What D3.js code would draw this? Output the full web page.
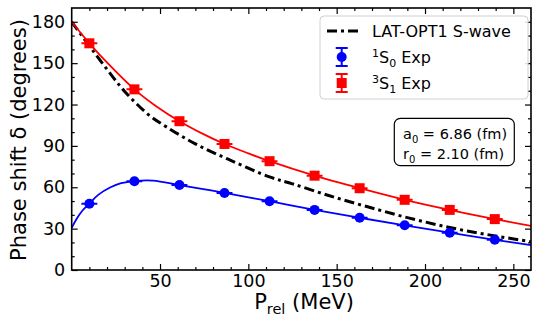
<!DOCTYPE html>
<html><head><meta charset="utf-8">
<script src="https://cdn.jsdelivr.net/npm/d3@7"></script>
<style>body{margin:0;background:#fff}svg{display:block}text{font-family:"DejaVu Sans",sans-serif}</style>
</head><body>
<svg id="c" width="540" height="324"></svg>
<script>
// ---- data ----
const xExp = [10, 35.5, 61, 86.5, 112, 137.5, 163, 188.5, 214, 239.5];
const s0Exp = [48.1, 64.4, 61.6, 55.9, 49.9, 43.6, 37.9, 32.4, 27.1, 21.9];
const s1Exp = [164.4, 131.0, 107.9, 91.4, 78.9, 68.4, 59.3, 50.9, 43.6, 36.9];
const xErr = 4.5;

const s0CurveX = [0, 3, 6, 10, 15, 22, 28, 35.5, 46, 61, 74.5, 86.5, 112, 137.5, 163, 188.5, 214, 239.5, 260];
const s0CurveY = [30.5, 37.5, 43, 48.1, 54.5, 60, 63, 64.5, 64.8, 61.6, 58.7, 55.9, 49.9, 43.6, 37.9, 32.4, 27.1, 21.9, 18];
const s1CurveX = [0, 10, 22, 35.5, 48, 61, 74, 86.5, 100, 112, 137.5, 163, 188.5, 214, 239.5, 260];
const s1CurveY = [180, 164.4, 147.8, 131, 118.6, 107.9, 98.9, 91.4, 84.6, 78.9, 68.4, 59.3, 50.9, 43.6, 36.9, 32];
const latX = [0, 10, 20, 30, 43.6, 54, 70, 90, 112, 125, 145, 167, 190, 214, 237, 260];
const latY = [180, 162.5, 145.5, 129.5, 112.5, 103.5, 91.5, 79.5, 67.5, 62.5, 54.2, 46, 38, 30.8, 25.3, 20.5];

const xTicks = [50, 100, 150, 200, 250];
const yTicks = [0, 30, 60, 90, 120, 150, 180];
const legendLabels = ["LAT-OPT1 S-wave", "1S0 Exp", "3S1 Exp"];
const annotation = ["a0 = 6.86 (fm)", "r0 = 2.10 (fm)"];

// ---- layout ----
const svg = d3.select("#c");
const L = 71.7, R = 531, T = 8, B = 270;
const x = d3.scaleLinear().domain([0, 260]).range([L, R]);
const y = d3.scaleLinear().domain([0, 190]).range([B, T]);

svg.append("defs").append("clipPath").attr("id", "clip")
  .append("rect").attr("x", L).attr("y", T).attr("width", R - L).attr("height", B - T);

const line = d3.line().x(d => x(d[0])).y(d => y(d[1])).curve(d3.curveCatmullRom.alpha(0.5));
const plot = svg.append("g").attr("clip-path", "url(#clip)");

plot.append("path").datum(d3.zip(latX, latY)).attr("d", line)
  .attr("fill", "none").attr("stroke", "#000").attr("stroke-width", 3)
  .attr("stroke-dasharray", "10,4,3,4");
plot.append("path").datum(d3.zip(s1CurveX, s1CurveY)).attr("d", line)
  .attr("fill", "none").attr("stroke", "red").attr("stroke-width", 1.8);
plot.append("path").datum(d3.zip(s0CurveX, s0CurveY)).attr("d", line)
  .attr("fill", "none").attr("stroke", "blue").attr("stroke-width", 1.8);

function errPts(vals, color, shape) {
  const g = plot.append("g");
  const pts = d3.zip(xExp, vals);
  g.selectAll("line.e").data(pts).join("line")
    .attr("x1", d => x(d[0] - xErr)).attr("x2", d => x(d[0] + xErr))
    .attr("y1", d => y(d[1])).attr("y2", d => y(d[1]))
    .attr("stroke", color).attr("stroke-width", 2);
  if (shape === "circle") {
    g.selectAll("circle").data(pts).join("circle")
      .attr("cx", d => x(d[0])).attr("cy", d => y(d[1])).attr("r", 5).attr("fill", color);
  } else {
    g.selectAll("rect").data(pts).join("rect")
      .attr("x", d => x(d[0]) - 5).attr("y", d => y(d[1]) - 5)
      .attr("width", 10).attr("height", 10).attr("fill", color);
  }
}
errPts(s1Exp, "red", "square");
errPts(s0Exp, "blue", "circle");

// ---- axes ----
const fs = 17.5;
const minX = d3.range(10, 260, 10).filter(v => v % 50);
const minY = d3.range(10, 190, 10).filter(v => v % 30);
const axB = svg.append("g").attr("transform", `translate(0,${B})`)
  .call(d3.axisBottom(x).tickValues(xTicks).tickSize(-6).tickPadding(5).tickFormat(d3.format("d")));
const axBm = svg.append("g").attr("transform", `translate(0,${B})`)
  .call(d3.axisBottom(x).tickValues(minX).tickSize(-3).tickFormat(""));
const axT = svg.append("g").attr("transform", `translate(0,${T})`)
  .call(d3.axisTop(x).tickValues(xTicks).tickSize(-6).tickFormat(""));
const axTm = svg.append("g").attr("transform", `translate(0,${T})`)
  .call(d3.axisTop(x).tickValues(minX).tickSize(-3).tickFormat(""));
const axL = svg.append("g").attr("transform", `translate(${L},0)`)
  .call(d3.axisLeft(y).tickValues(yTicks).tickSize(-6).tickPadding(6.5).tickFormat(d3.format("d")));
const axLm = svg.append("g").attr("transform", `translate(${L},0)`)
  .call(d3.axisLeft(y).tickValues(minY).tickSize(-3).tickFormat(""));
const axR = svg.append("g").attr("transform", `translate(${R},0)`)
  .call(d3.axisRight(y).tickValues(yTicks).tickSize(-6).tickFormat(""));
const axRm = svg.append("g").attr("transform", `translate(${R},0)`)
  .call(d3.axisRight(y).tickValues(minY).tickSize(-3).tickFormat(""));
[axB, axBm, axT, axTm, axL, axLm, axR, axRm].forEach(a => {
  a.select(".domain").remove();
  a.selectAll(".tick line").attr("stroke", "#000").attr("stroke-width", 1.2);
  a.selectAll("text").attr("font-size", fs).attr("fill", "#000").style("font-family", "DejaVu Sans");
});
svg.append("rect").attr("x", L).attr("y", T).attr("width", R - L).attr("height", B - T)
  .attr("fill", "none").attr("stroke", "#000").attr("stroke-width", 1.6);

// axis labels
const xl = svg.append("text").attr("x", 304).attr("y", 309).attr("text-anchor", "middle").attr("font-size", 21);
xl.append("tspan").text("P");
xl.append("tspan").attr("font-size", 14.5).attr("dy", 5).text("rel");
xl.append("tspan").attr("dy", -5).text(" (MeV)");
svg.append("text").attr("transform", "translate(26,140) rotate(-90)").attr("text-anchor", "middle")
  .attr("font-size", 21).text("Phase shift δ (degrees)");

// ---- legend ----
const lg = svg.append("g");
lg.append("rect").attr("x", 320).attr("y", 16).attr("width", 208).attr("height", 83).attr("rx", 4)
  .attr("fill", "#fff").attr("fill-opacity", 0.85).attr("stroke", "#d0d0d0").attr("stroke-width", 1);
lg.append("line").attr("x1", 327).attr("x2", 360).attr("y1", 31).attr("y2", 31)
  .attr("stroke", "#000").attr("stroke-width", 3).attr("stroke-dasharray", "10,4,3,4");
function legErr(cy, color, shape) {
  const cx = 341.7;
  lg.append("line").attr("x1", cx).attr("x2", cx).attr("y1", cy - 9).attr("y2", cy + 9).attr("stroke", color).attr("stroke-width", 2);
  [cy - 9, cy + 9].forEach(v => lg.append("line").attr("x1", cx - 6).attr("x2", cx + 6).attr("y1", v).attr("y2", v).attr("stroke", color).attr("stroke-width", 2));
  if (shape === "circle") lg.append("circle").attr("cx", cx).attr("cy", cy).attr("r", 5).attr("fill", color);
  else lg.append("rect").attr("x", cx - 5).attr("y", cy - 5).attr("width", 10).attr("height", 10).attr("fill", color);
}
legErr(57, "blue", "circle");
legErr(83, "red", "square");
lg.append("text").attr("x", 372).attr("y", 37).attr("font-size", 16).text(legendLabels[0]);
function supsub(parent, xx, yy, lab) {
  const t = parent.append("text").attr("x", xx).attr("y", yy).attr("font-size", 16);
  t.append("tspan").attr("font-size", 11).attr("dy", -6).text(lab[0]);
  t.append("tspan").attr("dy", 6).text(lab[1]);
  t.append("tspan").attr("font-size", 11).attr("dy", 4).text(lab[2]);
  t.append("tspan").attr("dy", -4).text(lab.slice(3));
}
supsub(lg, 372, 63, legendLabels[1]);
supsub(lg, 372, 89, legendLabels[2]);

// ---- annotation box ----
const ab = svg.append("g");
ab.append("rect").attr("x", 394.3).attr("y", 118.3).attr("width", 120).attr("height", 47.4).attr("rx", 6)
  .attr("fill", "#fff").attr("stroke", "#000").attr("stroke-width", 1.2);
annotation.forEach((s, i) => {
  const t = ab.append("text").attr("x", 403).attr("y", 139 + i * 20).attr("font-size", 14.5);
  t.append("tspan").text(s[0]);
  t.append("tspan").attr("font-size", 10).attr("dy", 3.5).text(s[1]);
  t.append("tspan").attr("dy", -3.5).text(s.slice(2));
});
</script>
</body></html>
